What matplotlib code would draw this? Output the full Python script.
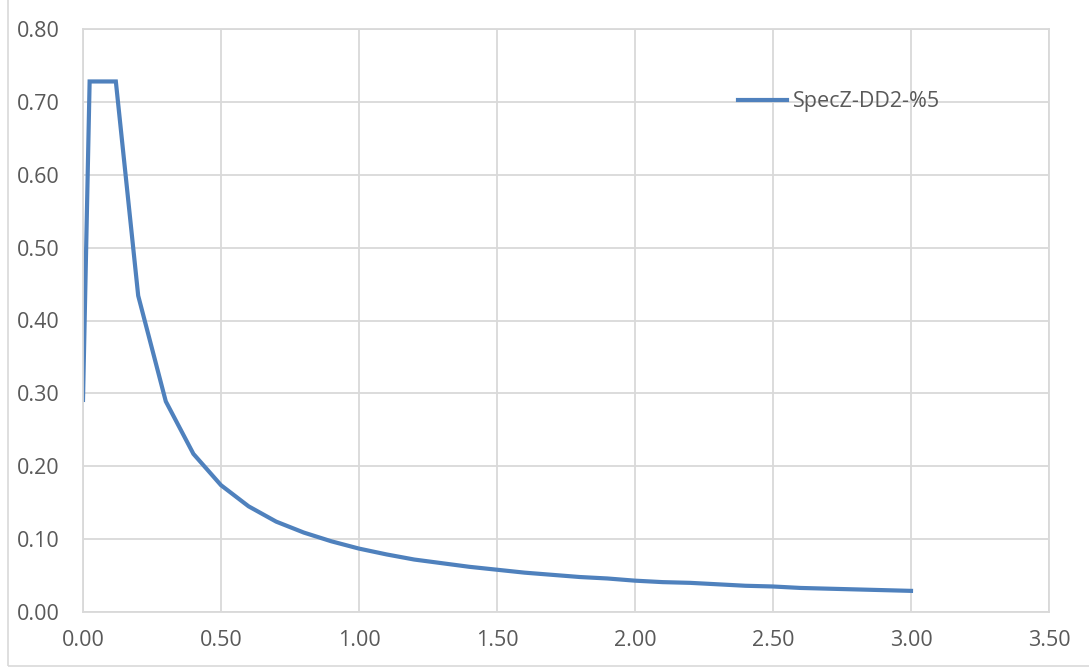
import numpy as np
import matplotlib.pyplot as plt
from matplotlib.patches import Rectangle

# periyot (s) ve spektral ivme degerleri
T = [0.00, 0.024, 0.119, 0.20, 0.30, 0.40, 0.50, 0.60, 0.70, 0.80, 0.90,
     1.00, 1.10, 1.20, 1.30, 1.40, 1.50, 1.60, 1.70, 1.80, 1.90,
     2.00, 2.10, 2.20, 2.30, 2.40, 2.50, 2.60, 2.70, 2.80, 2.90, 3.00]
Sae = [0.291, 0.728, 0.728, 0.434, 0.289, 0.217, 0.174, 0.145, 0.124, 0.109, 0.097,
       0.087, 0.079, 0.072, 0.067, 0.062, 0.058, 0.054, 0.051, 0.048, 0.046,
       0.043, 0.041, 0.040, 0.038, 0.036, 0.035, 0.033, 0.032, 0.031, 0.030, 0.029]
series_name = 'SpecZ-DD2-%5'

x_ticks = np.arange(0, 3.51, 0.5)
y_ticks = np.arange(0, 0.81, 0.1)

plt.rcParams['font.family'] = ['Open Sans', 'DejaVu Sans']

fig = plt.figure(figsize=(10.89, 6.71), dpi=100)
W, H = 1089, 671
ax = fig.add_axes([83 / W, 1 - 612 / H, (1049 - 83) / W, (612 - 29) / H])

# cerceve
fig.patches.append(Rectangle((8 / W, 1 - 666 / H), 1.2, 1.2, transform=fig.transFigure,
                             fill=False, edgecolor='#d9d9d9', linewidth=1.2))

ax.plot(T, Sae, color='#4f81bd', linewidth=3, label=series_name, solid_joinstyle='miter')

ax.set_xlim(0, 3.5)
ax.set_ylim(0, 0.8)
ax.set_xticks(x_ticks)
ax.set_yticks(y_ticks)
ax.set_xticklabels(['%.2f' % v for v in x_ticks])
ax.set_yticklabels(['%.2f' % v for v in y_ticks])
ax.grid(True, color='#d9d9d9', linewidth=1.3)
ax.set_axisbelow(True)
for s in ax.spines.values():
    s.set_color('#d9d9d9')
    s.set_linewidth(1.3)
ax.tick_params(length=0, labelsize=15.5, labelcolor='#595959')
ax.tick_params(axis='x', pad=13)
ax.tick_params(axis='y', pad=17)

leg = ax.legend(loc='center left', bbox_to_anchor=(0.6665, 0.875), frameon=False,
                fontsize=15.5, handlelength=2.3, handletextpad=0.25, borderpad=0)
for t in leg.get_texts():
    t.set_color('#595959')

fig.savefig('out.png', dpi=100)
